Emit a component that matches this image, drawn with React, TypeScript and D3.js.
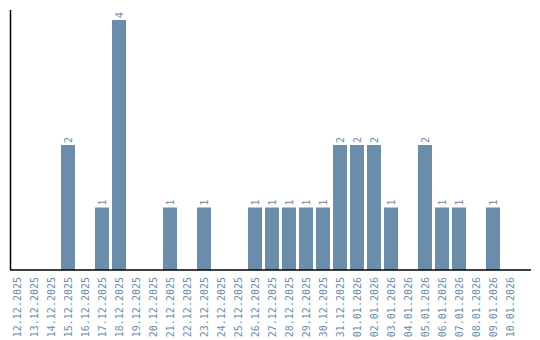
import React from "react";
import * as d3 from "d3";

const dates = [
  "12.12.2025","13.12.2025","14.12.2025","15.12.2025","16.12.2025","17.12.2025",
  "18.12.2025","19.12.2025","20.12.2025","21.12.2025","22.12.2025","23.12.2025",
  "24.12.2025","25.12.2025","26.12.2025","27.12.2025","28.12.2025","29.12.2025",
  "30.12.2025","31.12.2025","01.01.2026","02.01.2026","03.01.2026","04.01.2026",
  "05.01.2026","06.01.2026","07.01.2026","08.01.2026","09.01.2026","10.01.2026",
];
const values = [0,0,0,2,0,1,4,0,0,1,0,1,0,0,1,1,1,1,1,2,2,2,1,0,2,1,1,0,1,0];

const W = 540, H = 340;
const COLOR = "#6b8cab";
const FONT = "'DejaVu Sans Mono', monospace";

export default function App() {
  const x = d3.scaleBand<string>().domain(dates).range([10, 517]).paddingInner(3 / 17).paddingOuter(0);
  const y = d3.scaleLinear().domain([0, 4]).range([270, 20]);
  return (
    <svg width={W} height={H} style={{ position: "absolute", left: 0, top: 0 }}>
      <rect width={W} height={H} fill="#fff" />
      {dates.map((d, i) => {
        const v = values[i];
        const bx = x(d)!;
        const cx = bx + x.bandwidth() / 2;
        return (
          <g key={d}>
            {v > 0 && (
              <>
                <rect x={bx} y={y(v)} width={x.bandwidth()} height={y(0) - y(v)} fill={COLOR} />
                <text
                  transform={`translate(${cx + 3.5},${y(v) - 2}) rotate(-90)`}
                  fontFamily={FONT}
                  fontSize={10}
                  fill={COLOR}
                  textAnchor="start"
                >
                  {v}
                </text>
              </>
            )}
            <text
              transform={`translate(${cx + 3.5},${277}) rotate(-90)`}
              fontFamily={FONT}
              fontSize={10}
              fill={COLOR}
              textAnchor="end"
            >
              {d}
            </text>
          </g>
        );
      })}
      <line x1={10.5} x2={10.5} y1={10} y2={270} stroke="#000" strokeWidth={1.5} />
      <line x1={10} x2={531} y1={270} y2={270} stroke="#000" strokeWidth={1.5} />
    </svg>
  );
}
